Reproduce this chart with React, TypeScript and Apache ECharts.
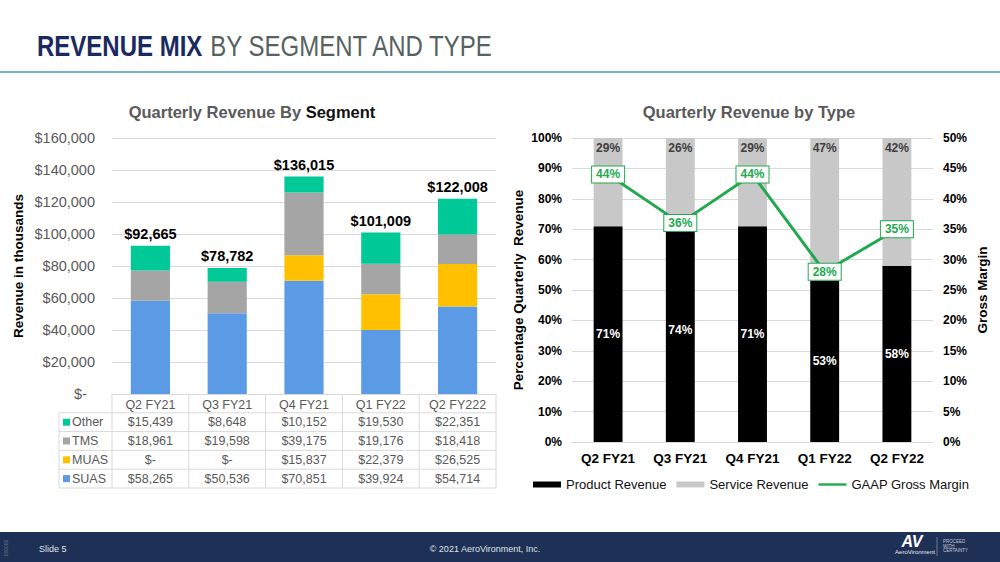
import React, { useEffect, useRef } from "react";
import * as echarts from "echarts";

// ---------- data ----------
const segCategories = ["Q2 FY21", "Q3 FY21", "Q4 FY21", "Q1 FY22", "Q2 FY222"];
const otherRev = [15439, 8648, 10152, 19530, 22351];
const tmsRev = [18961, 19598, 39175, 19176, 18418];
const muasRev = [0, 0, 15837, 22379, 26525];
const suasRev = [58265, 50536, 70851, 39924, 54714];
const segTotals = segCategories.map((_, i) => otherRev[i] + tmsRev[i] + muasRev[i] + suasRev[i]);

const typeCategories = ["Q2 FY21", "Q3 FY21", "Q4 FY21", "Q1 FY22", "Q2 FY22"];
const productPct = [71, 74, 71, 53, 58];
const servicePct = [29, 26, 29, 47, 42];
const grossMarginPct = [44, 36, 44, 28, 35];

// ---------- styling / layout ----------
const FONT = "'Liberation Sans', Arial, sans-serif";
const C_OTHER = "#00c896";
const C_TMS = "#a5a5a5";
const C_MUAS = "#ffc000";
const C_SUAS = "#5b9be6";
const C_GREEN = "#22a94f";
const GRIDLINE = "#d9d9d9";

const L_LEFT = 112;
const L_RIGHT = 496;
const L_TOP = 138;
const L_BOTTOM = 394;
const TABLE_LEFT = 59;
const ROW_H = 18.8;

const R_LEFT = 572;
const R_RIGHT = 933;
const R_TOP = 138;
const R_BOTTOM = 442;

const fmtMoney = (v: number) => (v === 0 ? "$-" : "$" + v.toLocaleString("en-US"));

function buildTable(): any[] {
  const els: any[] = [];
  const colW = (L_RIGHT - L_LEFT) / segCategories.length;
  const rows = [
    { name: "Other", color: C_OTHER, vals: otherRev },
    { name: "TMS", color: C_TMS, vals: tmsRev },
    { name: "MUAS", color: C_MUAS, vals: muasRev },
    { name: "SUAS", color: C_SUAS, vals: suasRev },
  ];
  const yHeadBottom = L_BOTTOM + ROW_H;
  const yEnd = yHeadBottom + ROW_H * rows.length;
  const ls = { stroke: GRIDLINE, lineWidth: 1 };
  for (let i = 0; i <= segCategories.length; i++) {
    const x = L_LEFT + colW * i;
    els.push({ type: "line", shape: { x1: x, y1: L_BOTTOM, x2: x, y2: yEnd }, style: ls, silent: true });
  }
  els.push({ type: "line", shape: { x1: TABLE_LEFT, y1: yHeadBottom, x2: TABLE_LEFT, y2: yEnd }, style: ls, silent: true });
  for (let r = 0; r <= rows.length; r++) {
    const y = yHeadBottom + ROW_H * r;
    els.push({ type: "line", shape: { x1: TABLE_LEFT, y1: y, x2: L_RIGHT, y2: y }, style: ls, silent: true });
  }
  rows.forEach((row, r) => {
    const cy = yHeadBottom + ROW_H * r + ROW_H / 2;
    els.push({ type: "rect", shape: { x: TABLE_LEFT + 4, y: cy - 3.5, width: 7, height: 7 }, style: { fill: row.color }, silent: true });
    els.push({
      type: "text", x: TABLE_LEFT + 13, y: cy,
      style: { text: row.name, fill: "#595959", fontSize: 12.5, fontFamily: FONT, textVerticalAlign: "middle", textAlign: "left" },
      silent: true,
    });
    row.vals.forEach((v, i) => {
      els.push({
        type: "text", x: L_LEFT + colW * (i + 0.5), y: cy,
        style: { text: fmtMoney(v), fill: "#595959", fontSize: 12.5, fontFamily: FONT, textVerticalAlign: "middle", textAlign: "center" },
        silent: true,
      });
    });
  });
  return els;
}

function buildDecor(): any[] {
  return [
    {
      type: "text", x: 37, y: 46, scaleX: 0.8,
      style: {
        text: "{a|REVENUE MIX}{b|BY SEGMENT AND TYPE}",
        textVerticalAlign: "middle",
        rich: {
          a: { fontSize: 30, fontWeight: "bold", fill: "#1b2a5e", fontFamily: FONT },
          b: { fontSize: 30, fill: "#56625f", fontFamily: FONT, padding: [0, 0, 0, 10] },
        },
      },
      silent: true,
    },
    { type: "line", shape: { x1: 0, y1: 72, x2: 1000, y2: 72 }, style: { stroke: "#74b6c6", lineWidth: 2 }, silent: true },
    {
      type: "text", x: 252, y: 112,
      style: {
        text: "{a|Quarterly Revenue By }{b|Segment}",
        textAlign: "center", textVerticalAlign: "middle",
        rich: {
          a: { fontSize: 16.5, fontWeight: "bold", fill: "#595959", fontFamily: FONT },
          b: { fontSize: 16.5, fontWeight: "bold", fill: "#111", fontFamily: FONT },
        },
      },
      silent: true,
    },
    {
      type: "text", x: 749, y: 112,
      style: { text: "Quarterly Revenue by Type", fontSize: 16.5, fontWeight: "bold", fill: "#595959", fontFamily: FONT, textAlign: "center", textVerticalAlign: "middle" },
      silent: true,
    },
    // footer
    { type: "rect", shape: { x: 0, y: 532, width: 1000, height: 30 }, style: { fill: "#1f3056" }, silent: true },
    { type: "text", x: 39, y: 549, style: { text: "Slide 5", fontSize: 9, fill: "#dfe3ea", fontFamily: FONT, textVerticalAlign: "middle" }, silent: true },
    { type: "text", x: 485, y: 549, style: { text: "© 2021 AeroVironment, Inc.", fontSize: 9, fill: "#dfe3ea", fontFamily: FONT, textAlign: "center", textVerticalAlign: "middle" }, silent: true },
    { type: "text", x: 6, y: 548, rotation: Math.PI / 2, style: { text: "000000", fontSize: 5, fill: "#6c7893", fontFamily: FONT, textAlign: "center", textVerticalAlign: "middle" }, silent: true },
    { type: "text", x: 912, y: 541, style: { text: "AV", fontSize: 16, fontWeight: 900, fontStyle: "italic", fill: "#ffffff", fontFamily: FONT, textAlign: "center", textVerticalAlign: "middle" }, silent: true },
    { type: "text", x: 915, y: 552, style: { text: "AeroVironment", fontSize: 6, fill: "#e6e9ef", fontFamily: FONT, textAlign: "center", textVerticalAlign: "middle" }, silent: true },
    { type: "line", shape: { x1: 937, y1: 537, x2: 937, y2: 556 }, style: { stroke: "#7f8aa3", lineWidth: 0.8 }, silent: true },
    { type: "text", x: 943, y: 546, style: { text: "PROCEED\nWITH\nCERTAINTY", fontSize: 4.5, lineHeight: 4.8, fill: "#c2c9d6", fontFamily: FONT, textVerticalAlign: "middle" }, silent: true },
  ];
}

export default function App() {
  const ref = useRef<HTMLDivElement>(null);
  useEffect(() => {
    document.body.style.margin = "0";
    const chart = echarts.init(ref.current!, null, { renderer: "svg" });
    const segBar = (name: string, data: number[], color: string) => ({
      name, type: "bar", stack: "seg", xAxisIndex: 0, yAxisIndex: 0, data, barWidth: "51%",
      itemStyle: { color }, emphasis: { disabled: true },
    });
    const option: any = {
      animation: false,
      textStyle: { fontFamily: FONT },
      grid: [
        { left: L_LEFT, top: L_TOP, width: L_RIGHT - L_LEFT, height: L_BOTTOM - L_TOP },
        { left: R_LEFT, top: R_TOP, width: R_RIGHT - R_LEFT, height: R_BOTTOM - R_TOP },
      ],
      xAxis: [
        {
          type: "category", gridIndex: 0, data: segCategories,
          axisLine: { show: true, lineStyle: { color: GRIDLINE } }, axisTick: { show: false },
          axisLabel: { fontSize: 12.5, color: "#595959", margin: 4 },
        },
        {
          type: "category", gridIndex: 1, data: typeCategories,
          axisLine: { show: true, lineStyle: { color: GRIDLINE } }, axisTick: { show: false },
          axisLabel: { fontSize: 13.5, fontWeight: "bold", color: "#000", margin: 9 },
        },
      ],
      yAxis: [
        {
          type: "value", gridIndex: 0, min: 0, max: 160000, interval: 20000,
          name: "Revenue in thousands", nameLocation: "middle", nameGap: 87,
          nameTextStyle: { fontSize: 13.5, fontWeight: "bold", color: "#000" },
          axisLine: { show: false }, axisTick: { show: false },
          splitLine: { lineStyle: { color: GRIDLINE } },
          axisLabel: {
            fontSize: 14.5, color: "#595959", margin: 17,
            formatter: (v: number) => (v === 0 ? "{d|$-}" : "$" + v.toLocaleString("en-US")),
            rich: { d: { fontSize: 14.5, color: "#595959", padding: [0, 8, 0, 0] } },
          },
        },
        {
          type: "value", gridIndex: 1, min: 0, max: 100, interval: 10,
          name: "Percentage Quarterly  Revenue", nameLocation: "middle", nameGap: 47,
          nameTextStyle: { fontSize: 13.5, fontWeight: "bold", color: "#000" },
          axisLine: { show: false }, axisTick: { show: false },
          splitLine: { lineStyle: { color: GRIDLINE } },
          axisLabel: { fontSize: 12, fontWeight: "bold", color: "#000", margin: 10, formatter: "{value}%" },
        },
        {
          type: "value", gridIndex: 1, position: "right", min: 0, max: 50, interval: 5,
          name: "Gross Margin", nameLocation: "middle", nameGap: 42,
          nameTextStyle: { fontSize: 13.5, fontWeight: "bold", color: "#000" },
          axisLine: { show: false }, axisTick: { show: false }, splitLine: { show: false },
          axisLabel: { fontSize: 12, fontWeight: "bold", color: "#000", margin: 10, formatter: "{value}%" },
        },
      ],
      legend: {
        data: [
          { name: "Product Revenue", icon: "rect" },
          { name: "Service Revenue", icon: "rect" },
          { name: "GAAP Gross Margin", icon: "path://M0,0L0,0M0,1.8L28,1.8L28,4.2L0,4.2ZM28,6L28,6" },
        ],
        left: 528, top: 473, itemWidth: 28, itemHeight: 6, itemGap: 10,
        textStyle: { fontSize: 13, color: "#111", fontFamily: FONT },
        selectedMode: false,
      },
      series: [
        segBar("SUAS", suasRev, C_SUAS),
        segBar("MUAS", muasRev, C_MUAS),
        segBar("TMS", tmsRev, C_TMS),
        {
          ...segBar("Other", otherRev, C_OTHER),
          label: {
            show: true, position: "top", distance: 4, fontSize: 14.5, fontWeight: "bold", color: "#000",
            formatter: (p: any) => fmtMoney(segTotals[p.dataIndex]),
          },
        },
        {
          name: "Product Revenue", type: "bar", stack: "type", xAxisIndex: 1, yAxisIndex: 1, data: productPct, barWidth: "40%",
          itemStyle: { color: "#000" }, emphasis: { disabled: true },
          label: { show: true, position: "inside", color: "#fff", fontSize: 12, fontWeight: "bold", formatter: "{c}%" },
        },
        {
          name: "Service Revenue", type: "bar", stack: "type", xAxisIndex: 1, yAxisIndex: 1, data: servicePct, barWidth: "40%",
          itemStyle: { color: "#c8c8c8" }, emphasis: { disabled: true },
          label: { show: true, position: "insideTop", distance: 4, color: "#404040", fontSize: 12, fontWeight: "bold", formatter: "{c}%" },
        },
        {
          name: "GAAP Gross Margin", type: "line", xAxisIndex: 1, yAxisIndex: 2, data: grossMarginPct, z: 5,
          symbol: "circle", symbolSize: 1, showSymbol: true,
          lineStyle: { color: C_GREEN, width: 3 }, itemStyle: { color: C_GREEN },
          label: {
            show: true, position: "inside", color: C_GREEN, fontSize: 12, fontWeight: "bold", formatter: "{c}%",
            backgroundColor: "#fff", borderColor: C_GREEN, borderWidth: 1, padding: [2, 4],
          },
          emphasis: { disabled: true },
        },
      ],
      graphic: [...buildDecor(), ...buildTable()],
    };
    chart.setOption(option);
    return () => chart.dispose();
  }, []);
  return <div ref={ref} style={{ width: 1000, height: 562, position: "absolute", left: 0, top: 0, background: "#fff" }} />;
}
